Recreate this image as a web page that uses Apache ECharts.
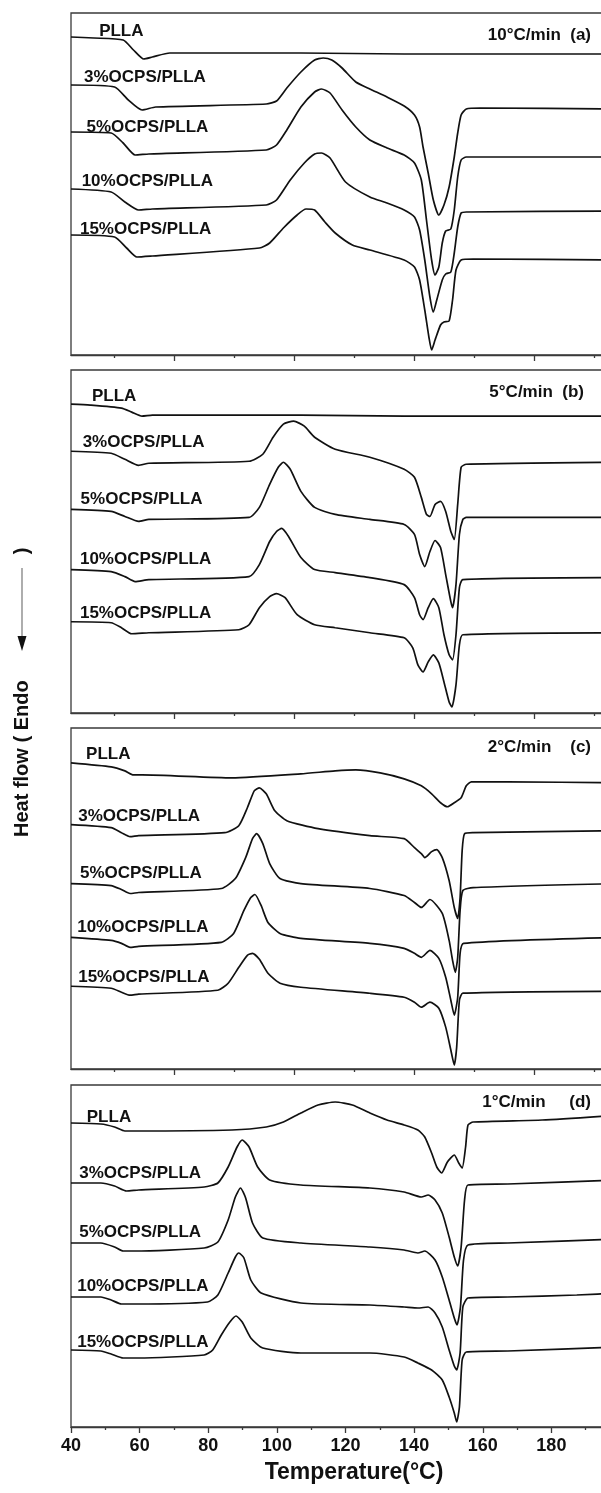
<!DOCTYPE html>
<html>
<head>
<meta charset="utf-8">
<title>DSC heating curves of PLLA and OCPS/PLLA</title>
<script src="https://cdn.jsdelivr.net/npm/echarts@6/dist/echarts.min.js"></script>
<style>
  html, body { margin: 0; padding: 0; background: #fff; overflow: hidden; }
  #chart { width: 601px; height: 1493px; }
</style>
</head>
<body>
<div id="chart"></div>
<script>
// Sample names, top to bottom within each panel
const sampleNames = ['PLLA', '3%OCPS/PLLA', '5%OCPS/PLLA', '10%OCPS/PLLA', '15%OCPS/PLLA'];
// Heating-rate captions for the four panels
const rateTitles = ['10\u00b0C/min  (a)', '5\u00b0C/min  (b)', '2\u00b0C/min    (c)', '1\u00b0C/min     (d)'];
// Temperature axis (°C)
const tempMin = 40, tempMax = 200;
const tempTicks = [40, 60, 80, 100, 120, 140, 160, 180];
// Tick marks used on the upper three panels (°C)
const upperMajorTicks = [70, 105, 140, 175];
const upperMinorTicks = [52.5, 87.5, 122.5, 157.5, 192.5];

// Heat flow curves, [temperature °C, heat flow a.u. (shifted)]
// (a) 10 °C/min
const a_PLLA = [[40,31.8],[46.7,31.7],[55.2,31.5],[58.2,30.5],[61.2,29.6],[63.7,29.8],[68.8,30.2],[107.0,30.2],[137.1,30.1],[157.2,30.1],[200,30.1]];
const a_3 = [[40,27.0],[52.7,26.8],[56.7,25.5],[60.7,24.5],[64.7,24.8],[96.9,25.1],[99.9,25.4],[102.9,26.7],[107.0,28.3],[111.0,29.5],[113.5,29.7],[116.0,29.5],[119.0,28.7],[123.0,27.3],[127.1,26.6],[132.1,25.8],[137.1,24.9],[140.1,24.0],[141.6,22.8],[142.6,20.8],[144.1,18.2],[145.6,15.5],[147.2,14.0],[148.7,15.0],[150.2,16.8],[151.7,19.8],[152.7,22.2],[153.7,24.0],[155.2,24.6],[159.2,24.7],[200,24.6]];
const a_5 = [[40,22.3],[51.7,22.2],[55.2,21.2],[58.7,20.0],[62.7,20.1],[96.9,20.5],[99.9,21.0],[102.9,22.5],[107.0,24.8],[111.0,26.3],[113.0,26.6],[115.5,26.2],[119.0,24.5],[123.0,22.8],[127.1,21.5],[132.1,20.7],[137.1,20.0],[140.1,19.2],[142.1,17.5],[143.6,13.5],[145.1,9.5],[146.1,8.0],[147.2,8.8],[148.2,11.2],[149.2,12.4],[150.7,12.6],[151.7,14.5],[152.7,17.8],[153.7,19.5],[155.2,19.8],[200,19.8]];
const a_10 = [[40,16.6],[51.7,16.3],[55.7,15.3],[59.7,14.5],[63.7,14.6],[96.9,15.0],[99.9,15.5],[103.9,17.5],[108.0,19.2],[111.0,20.1],[113.0,20.2],[115.5,19.7],[120.0,17.3],[127.1,15.8],[132.1,15.2],[137.1,14.5],[140.1,13.8],[141.6,12.5],[143.1,9.5],[144.6,5.8],[145.6,4.3],[146.6,5.5],[148.2,7.5],[149.2,8.1],[150.7,8.3],[151.7,10.2],[152.7,12.8],[153.7,14.2],[155.2,14.3],[200,14.4]];
const a_15 = [[40,12.0],[52.7,11.8],[56.2,10.7],[59.2,9.8],[63.7,9.9],[94.9,10.7],[97.9,11.2],[101.9,12.7],[105.9,14.0],[108.5,14.6],[111.0,14.5],[114.0,13.3],[117.0,12.2],[122.0,11.0],[127.1,10.5],[137.1,9.5],[140.1,8.8],[141.6,7.5],[143.1,4.5],[144.3,1.8],[145.1,0.5],[146.1,1.5],[147.7,3.0],[148.7,3.3],[150.2,3.4],[151.2,5.5],[152.2,8.5],[153.7,9.5],[157.2,9.6],[200,9.5]];

// (b) 5 °C/min
const b_PLLA = [[40,30.8],[45.6,30.7],[54.7,30.4],[57.7,30.0],[60.7,29.6],[63.7,29.7],[107.0,29.7],[137.1,29.6],[151.2,29.6],[200,29.6]];
const b_3 = [[40,26.1],[51.7,25.9],[55.7,25.3],[59.7,24.7],[62.7,24.9],[91.9,25.1],[95.9,25.8],[98.9,27.5],[101.9,28.8],[104.9,29.1],[108.0,28.6],[111.0,27.5],[117.0,26.3],[127.1,25.5],[137.1,24.3],[140.1,23.5],[142.1,21.5],[143.6,19.8],[144.6,19.6],[146.1,20.8],[147.7,21.1],[149.2,20.1],[150.7,18.1],[151.7,17.3],[152.7,20.8],[153.7,24.5],[155.2,24.8],[200,25.0]];
const b_5 = [[40,20.3],[51.7,20.1],[55.7,19.6],[59.7,19.1],[62.7,19.3],[91.9,19.5],[94.9,20.5],[97.9,22.8],[100.4,24.5],[101.9,25.0],[103.9,24.3],[107.0,22.1],[111.0,20.5],[117.0,19.8],[127.1,19.3],[137.1,18.8],[140.1,17.8],[141.6,15.8],[143.1,14.6],[144.6,16.1],[146.1,17.2],[147.7,16.5],[149.2,13.8],[150.7,11.1],[151.2,10.5],[152.2,12.8],[153.2,17.8],[154.2,19.3],[155.2,19.5],[200,19.5]];
const b_10 = [[40,14.3],[51.7,14.1],[55.7,13.6],[58.7,13.1],[62.7,13.3],[91.9,13.6],[94.9,14.8],[97.9,17.1],[99.9,18.1],[101.4,18.4],[103.4,17.6],[107.0,15.5],[111.0,14.3],[117.0,14.0],[127.1,13.5],[137.1,12.8],[140.1,11.5],[141.6,9.8],[142.6,9.3],[144.1,10.5],[145.6,11.4],[147.2,10.5],[148.7,7.8],[150.2,5.8],[151.2,5.3],[152.2,7.8],[153.2,12.5],[154.2,13.3],[200,13.5]];
const b_15 = [[40,9.1],[51.7,9.0],[54.7,8.5],[57.7,7.9],[62.7,8.0],[88.9,8.3],[91.9,8.8],[94.9,10.5],[97.9,11.6],[99.9,11.9],[102.4,11.5],[105.9,9.8],[111.0,8.8],[117.0,8.5],[127.1,8.0],[137.1,7.5],[139.6,6.5],[141.1,4.8],[142.6,4.1],[144.1,5.1],[145.6,5.8],[147.2,5.0],[148.7,3.1],[150.2,1.1],[151.0,0.6],[152.2,2.8],[153.2,6.8],[154.2,7.8],[200,8.0]];

// (c) 2 °C/min
const c_PLLA = [[40,30.7],[51.7,30.3],[55.7,29.9],[58.2,29.5],[60.7,29.5],[86.9,29.2],[107.0,29.6],[117.0,29.9],[123.0,30.0],[130.1,29.7],[137.1,29.1],[142.1,28.4],[145.1,27.6],[147.7,26.7],[149.7,26.3],[151.7,26.7],[153.7,27.2],[155.2,28.4],[156.7,28.8],[167.3,28.8],[200,28.7]];
const c_3 = [[40,24.5],[51.7,24.2],[54.7,23.7],[57.2,23.3],[59.7,23.4],[84.8,23.7],[88.9,24.4],[91.4,26.2],[93.4,27.9],[94.9,28.2],[96.9,27.6],[99.4,25.9],[102.9,24.9],[112.0,24.1],[127.1,23.4],[137.1,23.1],[140.1,22.2],[142.1,21.6],[143.1,21.2],[145.1,21.8],[146.6,22.0],[148.2,21.2],[150.2,18.9],[151.7,16.2],[152.7,15.1],[153.4,17.2],[154.0,21.9],[154.7,23.6],[157.2,23.7],[200,23.9]];
const c_5 = [[40,18.6],[51.7,18.4],[54.7,18.0],[57.2,17.6],[59.7,17.7],[83.8,18.1],[87.9,19.1],[90.9,21.2],[92.9,23.1],[94.1,23.6],[95.9,22.6],[97.9,20.6],[100.9,19.1],[107.0,18.6],[127.1,18.1],[137.1,17.4],[140.1,16.7],[142.1,16.2],[144.6,17.0],[148.2,15.6],[150.2,12.9],[151.2,10.9],[152.0,9.7],[152.7,11.2],[153.4,15.9],[154.2,17.9],[157.2,18.2],[200,18.6]];
const c_10 = [[40,13.2],[51.7,12.9],[54.7,12.6],[57.2,12.2],[59.7,12.3],[83.8,12.7],[87.4,13.6],[90.4,15.9],[92.4,17.2],[93.6,17.5],[95.4,16.4],[97.4,14.7],[100.9,13.6],[107.0,13.1],[127.1,12.6],[137.1,12.1],[140.1,11.6],[142.1,11.2],[144.6,11.9],[147.2,11.1],[149.2,9.2],[150.7,6.9],[151.7,5.4],[152.7,7.2],[153.4,11.6],[154.4,12.6],[200,13.2]];
const c_15 = [[40,8.3],[51.7,8.1],[54.7,7.7],[57.2,7.4],[59.7,7.5],[82.8,7.9],[85.8,8.6],[88.9,10.2],[91.4,11.4],[92.9,11.6],[94.9,11.0],[97.4,9.6],[100.9,8.6],[107.0,8.2],[127.1,7.6],[137.1,7.2],[140.1,6.7],[142.1,6.2],[144.6,6.7],[147.2,6.1],[149.2,4.2],[150.7,1.9],[151.7,0.4],[152.4,2.2],[153.2,6.9],[154.2,7.6],[200,7.8]];

// (d) 1 °C/min
const d_PLLA = [[40,30.4],[48.7,30.3],[52.7,30.0],[55.7,29.6],[58.7,29.6],[86.9,29.7],[96.9,30.0],[101.9,30.5],[107.0,31.4],[112.0,32.2],[117.0,32.5],[122.0,32.2],[127.1,31.4],[132.1,30.7],[137.1,30.2],[141.1,29.7],[143.1,29.0],[145.1,27.4],[146.6,26.0],[148.0,25.4],[149.7,26.5],[151.7,27.2],[153.0,26.4],[154.0,25.9],[155.0,28.0],[155.7,30.2],[157.2,30.5],[177.3,30.7],[200,31.2]];
const d_3 = [[40,24.4],[48.7,24.4],[52.7,24.1],[56.2,23.6],[59.7,23.7],[78.8,24.0],[82.8,24.4],[85.8,26.0],[88.4,28.0],[89.9,28.7],[91.9,28.0],[94.4,26.0],[97.9,24.7],[107.0,24.2],[127.1,23.9],[137.1,23.5],[142.1,23.0],[144.1,23.2],[146.1,22.7],[148.2,21.4],[150.2,19.0],[151.7,17.0],[152.7,16.1],[153.7,18.0],[154.7,22.7],[155.7,24.2],[167.3,24.3],[200,24.7]];
const d_5 = [[40,18.4],[48.7,18.4],[52.7,18.0],[55.2,17.6],[58.7,17.6],[78.8,17.9],[82.8,18.5],[85.8,20.7],[87.9,23.0],[89.4,23.9],[90.9,22.9],[92.9,20.4],[95.9,18.9],[107.0,18.4],[127.1,18.0],[137.1,17.7],[141.1,17.4],[143.1,17.6],[146.1,16.7],[148.2,15.0],[150.2,12.7],[151.7,10.9],[152.5,10.2],[153.5,12.0],[154.4,16.7],[155.7,18.2],[167.3,18.4],[200,18.8]];
const d_10 = [[40,13.0],[48.7,13.0],[51.7,12.7],[54.7,12.3],[58.7,12.3],[79.8,12.5],[82.8,13.2],[85.8,15.4],[87.9,17.0],[88.9,17.4],[90.4,16.9],[92.4,14.7],[95.4,13.4],[107.0,12.4],[127.1,12.2],[137.1,12.0],[141.1,11.9],[144.1,12.0],[146.1,11.4],[148.2,10.0],[150.2,7.7],[151.7,6.1],[152.4,5.7],[153.4,7.4],[154.2,12.0],[155.7,12.9],[167.3,13.0],[187.4,13.2],[200,13.4]];
const d_15 = [[40,7.7],[48.7,7.6],[51.7,7.3],[55.2,6.9],[59.7,6.9],[78.8,7.2],[81.3,7.7],[83.8,9.2],[86.3,10.5],[88.1,11.1],[89.9,10.5],[92.4,8.9],[95.9,7.9],[107.0,7.4],[127.1,7.4],[137.1,7.0],[141.1,6.4],[145.1,5.7],[148.2,4.7],[150.2,3.0],[151.7,1.4],[152.4,0.5],[153.2,2.0],[154.0,6.7],[155.2,7.5],[167.3,7.6],[200,8.0]];

const panelCurves = [
  [a_PLLA, a_3, a_5, a_10, a_15],
  [b_PLLA, b_3, b_5, b_10, b_15],
  [c_PLLA, c_3, c_5, c_10, c_15],
  [d_PLLA, d_3, d_5, d_10, d_15]
];

// Where each sample name is written, [temperature, heat flow]
const labelSpotsA = [[48.2,32.4],[43.8,27.8],[44.5,22.8],[43.1,17.4],[42.6,12.6]];
const labelSpotsB = [[46.1,31.6],[43.4,27.0],[42.8,21.3],[42.6,15.3],[42.6,9.9]];
const labelSpotsC = [[44.4,31.6],[42.1,25.3],[42.6,19.6],[41.8,14.2],[42.1,9.2]];
const labelSpotsD = [[44.6,31.0],[42.4,25.4],[42.4,19.5],[41.8,14.1],[41.8,8.5]];
const labelSpots = [labelSpotsA, labelSpotsB, labelSpotsC, labelSpotsD];

// ---- layout ----
const FONT = '"Liberation Sans", Arial, sans-serif';
const INK = '#111';
const FRAME = '#3a3a3a';
const panelTops = [13, 370, 728, 1085];
const panelHeights = [342, 343, 341, 342];
// the temperature axis runs on past the right edge of the page
const gridLeft = 71, gridWidth = 549;
const heatMax = 34.2;
const titleRight = [10, 17, 10, 10];
const titleCenters = [35, 392, 747, 1102];

const chart = echarts.init(document.getElementById('chart'), null, { renderer: 'canvas' });

const grids = [], xAxes = [], yAxes = [], series = [], titles = [];

panelTops.forEach((top, p) => {
  grids.push({
    left: gridLeft, width: gridWidth, top: top, height: panelHeights[p],
    outerBoundsMode: 'none', containLabel: false,
    show: true, borderColor: FRAME, borderWidth: 1.3, backgroundColor: 'transparent'
  });
  yAxes.push({
    type: 'value', gridIndex: p, min: 0, max: heatMax, show: false
  });
  const bottomPanel = p === panelTops.length - 1;
  xAxes.push({
    type: 'value', gridIndex: p, min: tempMin, max: tempMax,
    interval: 20,
    position: 'bottom',
    axisLine: { show: true, onZero: false, lineStyle: { color: FRAME, width: 1.3 } },
    axisTick: bottomPanel
      ? { show: true, inside: false, length: 6, lineStyle: { color: FRAME, width: 1.3 } }
      : { show: true, inside: false, length: 6, customValues: upperMajorTicks, lineStyle: { color: FRAME, width: 1.3 } },
    minorTick: bottomPanel
      ? { show: true, splitNumber: 2, length: 3, lineStyle: { color: FRAME, width: 1.3 } }
      : { show: false },
    axisLabel: bottomPanel
      ? { show: true, margin: 10, color: INK, fontSize: 18, fontWeight: 'bold', fontFamily: FONT,
          customValues: tempTicks }
      : { show: false },
    splitLine: { show: false }
  });
  titles.push({
    text: rateTitles[p], right: titleRight[p], top: titleCenters[p] - 10, padding: 0,
    textStyle: { fontSize: 17, fontWeight: 'bold', color: INK, fontFamily: FONT, lineHeight: 20 }
  });
});

// short ticks on the upper three panels
for (let p = 0; p < 3; p++) {
  xAxes.push({
    type: 'value', gridIndex: p, min: tempMin, max: tempMax, position: 'bottom',
    axisLine: { show: false, onZero: false },
    axisTick: { show: true, inside: false, length: 3, customValues: upperMinorTicks,
                lineStyle: { color: FRAME, width: 1.3 } },
    axisLabel: { show: false }, splitLine: { show: false }
  });
}

panelCurves.forEach((curves, p) => {
  curves.forEach((pts, s) => {
    series.push({
      type: 'line', name: sampleNames[s], xAxisIndex: p, yAxisIndex: p,
      data: pts, showSymbol: false, smooth: 0.2, silent: true,
      lineStyle: { color: INK, width: 1.7 },
      markPoint: {
        silent: true, symbol: 'circle', symbolSize: 0, animation: false,
        label: {
          show: true, position: [0, 0], align: 'left', verticalAlign: 'middle',
          formatter: sampleNames[s], color: INK, fontSize: 17, fontWeight: 'bold', fontFamily: FONT
        },
        data: [{ coord: labelSpots[p][s] }]
      }
    });
  });
});

chart.setOption({
  animation: false,
  backgroundColor: '#fff',
  title: titles,
  grid: grids,
  xAxis: xAxes,
  yAxis: yAxes,
  series: series,
  graphic: [
    {
      type: 'text', x: 354, y: 1473,
      style: { text: 'Temperature(\u00b0C)', align: 'center', verticalAlign: 'middle',
               fill: INK, fontSize: 23, fontWeight: 'bold', fontFamily: FONT }
    },
    {
      type: 'group', x: 22, y: 0,
      children: [
        { type: 'text', x: 0, y: 837, rotation: Math.PI / 2,
          style: { text: 'Heat flow ( Endo', align: 'left', verticalAlign: 'middle',
                   fill: INK, fontSize: 20, fontWeight: 'bold', fontFamily: FONT } },
        { type: 'line', shape: { x1: 0, y1: 568, x2: 0, y2: 640 },
          style: { stroke: '#777', lineWidth: 1.2 } },
        { type: 'polygon', shape: { points: [[-4.5, 636], [4.5, 636], [0, 651]] },
          style: { fill: INK } },
        { type: 'text', x: 0, y: 551, rotation: Math.PI / 2,
          style: { text: ')', align: 'center', verticalAlign: 'middle',
                   fill: INK, fontSize: 20, fontWeight: 'bold', fontFamily: FONT } }
      ]
    }
  ]
});
</script>
</body>
</html>
